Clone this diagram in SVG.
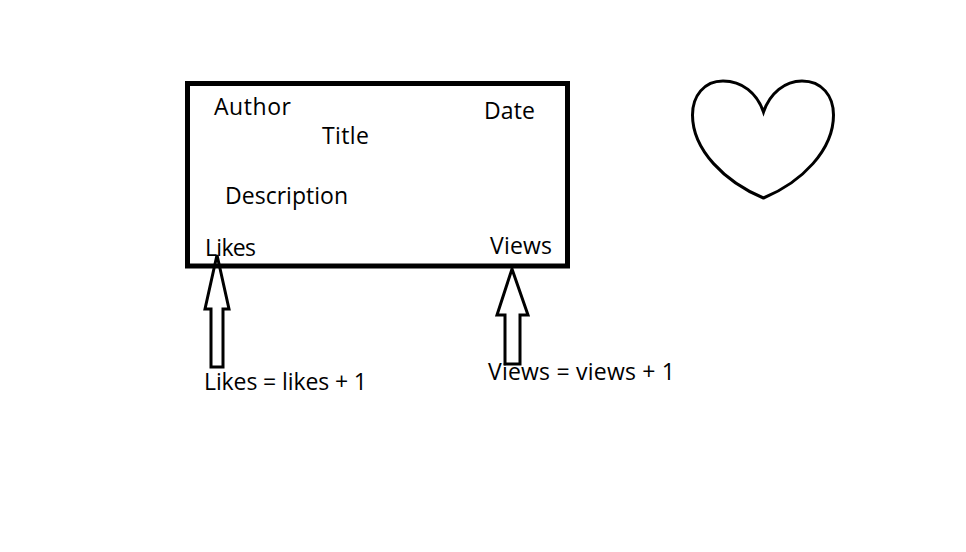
<svg xmlns="http://www.w3.org/2000/svg" width="966" height="552" viewBox="0 0 966 552">
<style>
.t{font-family:"Open Sans","Noto Sans","DejaVu Sans",sans-serif;font-size:23px;fill:#000}
.a{fill:none;stroke:#000;stroke-width:3;stroke-linejoin:miter}
</style>
<rect width="966" height="552" fill="#fff"/>
<g id="card">
<rect x="187.5" y="83.5" width="380" height="182.5" fill="#fff" stroke="#000" stroke-width="5"/>
<text class="t" x="214" y="115" textLength="77">Author</text>
<text class="t" x="484" y="119" textLength="51">Date</text>
<text class="t" x="322" y="144" textLength="47">Title</text>
<text class="t" x="225" y="204" textLength="123">Description</text>
<text class="t" x="205" y="256" textLength="51">Likes</text>
<text class="t" x="490" y="254" textLength="62">Views</text>
</g>
<g id="heart">
<path d="M763.5 112 C757 93 742 81 723 81 C704 81 692.500 96 692.500 115 C692.500 150 725 182 763.500 198 C802 182 833.500 150 833.500 115 C833.500 96 822 81 802 81 C785 81 770 93 763.500 112Z" fill="none" stroke="#000" stroke-width="3"/>
</g>
<g id="connectors">
<path class="a" d="M217 255 L229 309 H223 V367 H211 V309 H205 Z"/>
<path class="a" d="M512 269 L528 315 H520 V364 H505 V315 H497 Z"/>
</g>
<g id="label-likes"><text class="t" x="204" y="390" textLength="163">Likes = likes + 1</text></g>
<g id="label-views"><text class="t" x="488" y="380" textLength="187">Views = views + 1</text></g>
</svg>
